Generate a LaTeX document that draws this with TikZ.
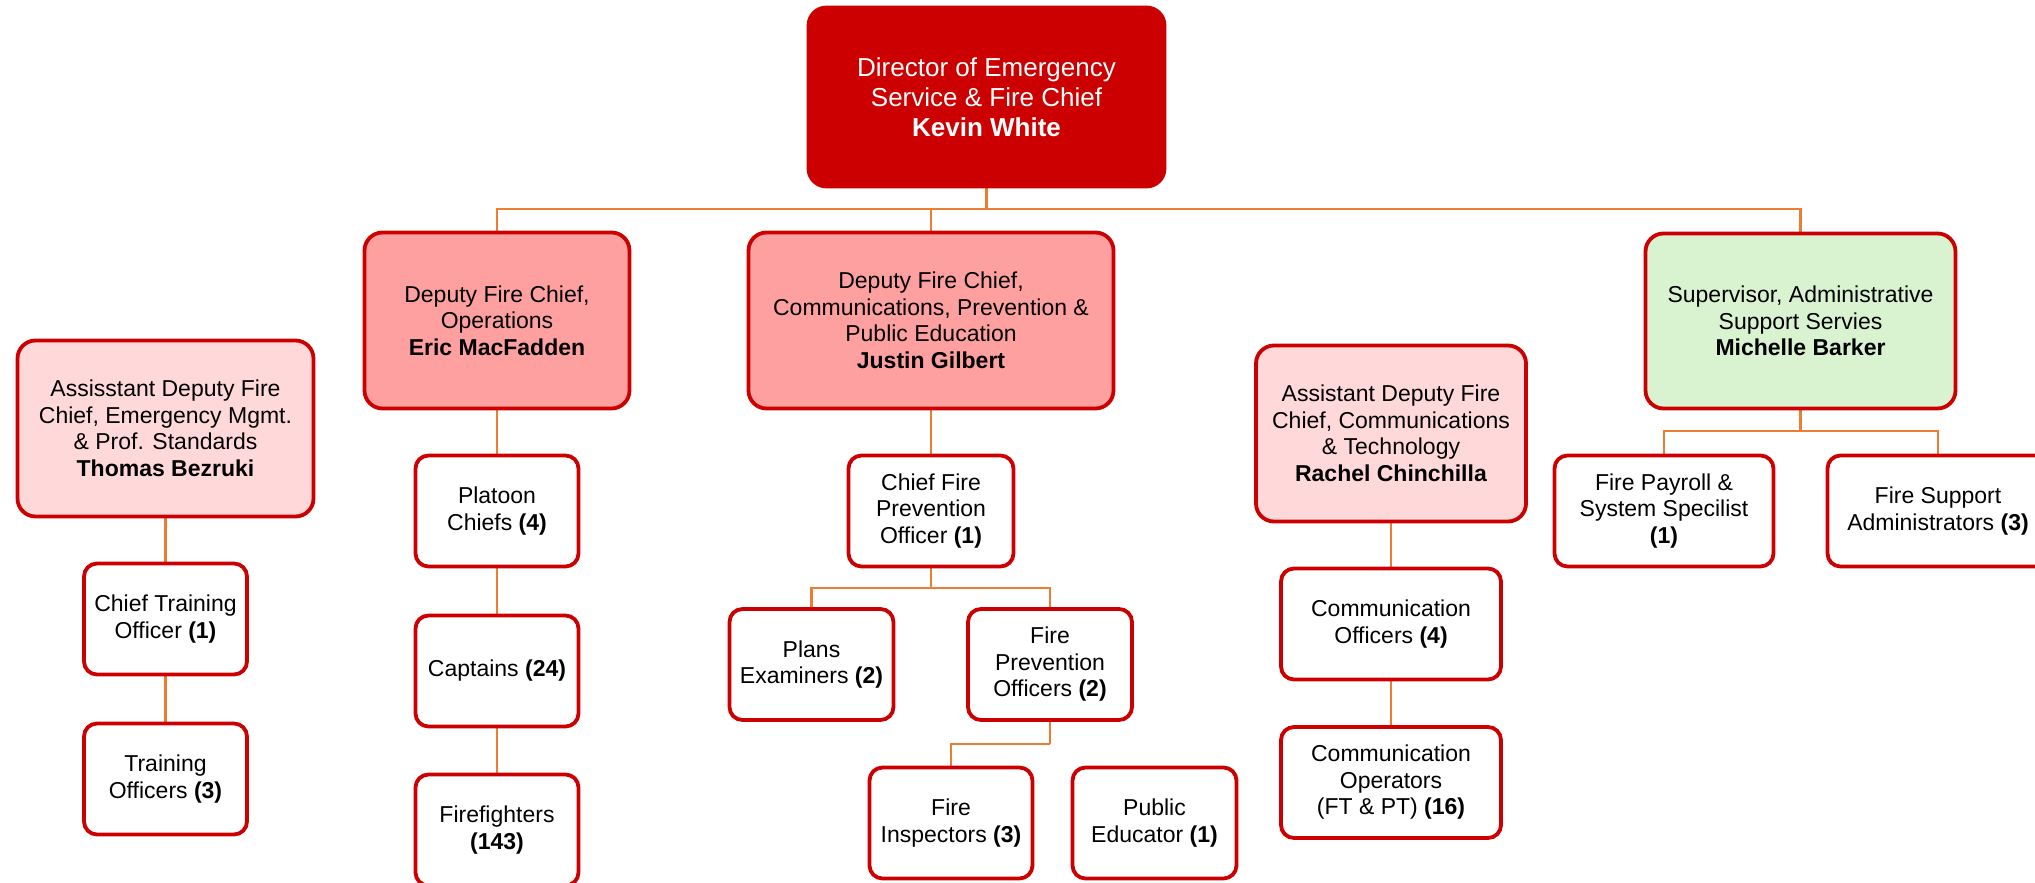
\documentclass[tikz,border=0pt]{standalone}
\usepackage{fontspec}
\setmainfont{Liberation Sans}
\usetikzlibrary{backgrounds}
\definecolor{boxred}{HTML}{CC0000}
\definecolor{linkor}{HTML}{ED7D31}
\definecolor{deepfill}{HTML}{FFA0A0}
\definecolor{palefill}{HTML}{FFD9D9}
\definecolor{greenfill}{HTML}{D9F2D0}
\tikzset{
  x=1pt, y=-1pt,
  base/.style={draw=boxred, line width=3.8pt, align=center, inner sep=0pt,
    font=\fontsize{23}{26.5}\selectfont},
  bigbox/.style={base, rounded corners=18pt},
  smallbox/.style={base, rounded corners=13pt, fill=white, minimum height=111pt},
  conn/.style={draw=linkor, line width=2.8pt},
}
\begin{document}
\begin{tikzpicture}
\clip (0,0) rectangle (2035,883);

% top
\node[bigbox, fill=boxred, text=white, minimum width=356pt, minimum height=179pt,
  font=\fontsize{26}{30}\selectfont] (dir) at (986.5,97)
  {Director of Emergency\\Service \& Fire Chief\\\textbf{Kevin White}};

% second level
\node[bigbox, fill=deepfill, minimum width=265pt, minimum height=176pt] (eric) at (497,320.5)
  {Deputy Fire Chief,\\Operations\\\textbf{Eric MacFadden}};
\node[bigbox, fill=deepfill, minimum width=365pt, minimum height=176pt] (justin) at (931,320.5)
  {Deputy Fire Chief,\\Communications, Prevention \&\\Public Education\\\textbf{Justin Gilbert}};
\node[bigbox, fill=greenfill, minimum width=310pt, minimum height=175pt] (michelle) at (1800.5,321)
  {Supervisor, Administrative\\Support Servies\\\textbf{Michelle Barker}};
\node[bigbox, fill=palefill, minimum width=296pt, minimum height=176pt] (thomas) at (165.5,428.5)
  {Assisstant Deputy Fire\\Chief, Emergency Mgmt.\\\& Prof. Standards\\\textbf{Thomas Bezruki}};
\node[bigbox, fill=palefill, minimum width=270pt, minimum height=176pt] (rachel) at (1391,433.5)
  {Assistant Deputy Fire\\Chief, Communications\\\& Technology\\\textbf{Rachel Chinchilla}};

% Thomas column
\node[smallbox, minimum width=163pt] (cto) at (165.5,619) {Chief Training\\Officer \textbf{(1)}};
\node[smallbox, minimum width=163pt] (tro) at (165.5,779) {Training\\Officers \textbf{(3)}};

% Eric column
\node[smallbox, minimum width=163pt] (platoon) at (497,511) {Platoon\\Chiefs \textbf{(4)}};
\node[smallbox, minimum width=163pt] (captains) at (497,671) {Captains \textbf{(24)}};
\node[smallbox, minimum width=163pt] (firef) at (497,830) {Firefighters\\\textbf{(143)}};

% Justin column
\node[smallbox, minimum width=165pt] (cfpo) at (931,511) {Chief Fire\\Prevention\\Officer \textbf{(1)}};
\node[smallbox, minimum width=164pt] (plans) at (811.5,664.5) {Plans\\Examiners \textbf{(2)}};
\node[smallbox, minimum width=164pt] (fpo) at (1050,664.5) {Fire\\Prevention\\Officers \textbf{(2)}};
\node[smallbox, minimum width=163pt] (insp) at (951,823) {Fire\\Inspectors \textbf{(3)}};
\node[smallbox, minimum width=164pt] (pubed) at (1154.5,823) {Public\\Educator \textbf{(1)}};

% Rachel column
\node[smallbox, minimum width=220pt] (commoff) at (1391,624) {Communication\\Officers \textbf{(4)}};
\node[smallbox, minimum width=220pt] (commop) at (1391,782.5) {Communication\\Operators\\(FT \& PT) \textbf{(16)}};

% Michelle column
\node[smallbox, minimum width=219pt] (payroll) at (1664,511) {Fire Payroll \&\\System Specilist\\\textbf{(1)}};
\node[smallbox, minimum width=221pt] (supadm) at (1938,511) {Fire Support\\Administrators \textbf{(3)}};

\begin{scope}[on background layer]
\fill[white] (0,0) rectangle (2035,883);
\coordinate (bus) at (986.5,209);
\draw[conn] (dir.south) -- (bus);
\draw[conn] (eric.north) |- (bus);
\draw[conn] (michelle.north) |- (bus);
\draw[conn] (justin.north) -- (justin.north |- bus);

\draw[conn] (thomas) -- (cto);
\draw[conn] (cto) -- (tro);

\draw[conn] (eric) -- (platoon);
\draw[conn] (platoon) -- (captains);
\draw[conn] (captains) -- (firef);

\draw[conn] (justin.south) -- (cfpo.north);
\coordinate (jb) at (931,588);
\draw[conn] (cfpo.south) -- (jb);
\draw[conn] (plans.north) |- (jb);
\draw[conn] (fpo.north) |- (jb);
\coordinate (fb) at (1050,744);
\draw[conn] (fpo.south) -- (fb);
\draw[conn] (insp.north) |- (fb);

\draw[conn] (rachel) -- (commoff);
\draw[conn] (commoff) -- (commop);

\coordinate (mb) at (1800.5,431);
\draw[conn] (michelle.south) -- (mb);
\draw[conn] (payroll.north) |- (mb);
\draw[conn] (supadm.north) |- (mb);
\end{scope}
\end{tikzpicture}
\end{document}
